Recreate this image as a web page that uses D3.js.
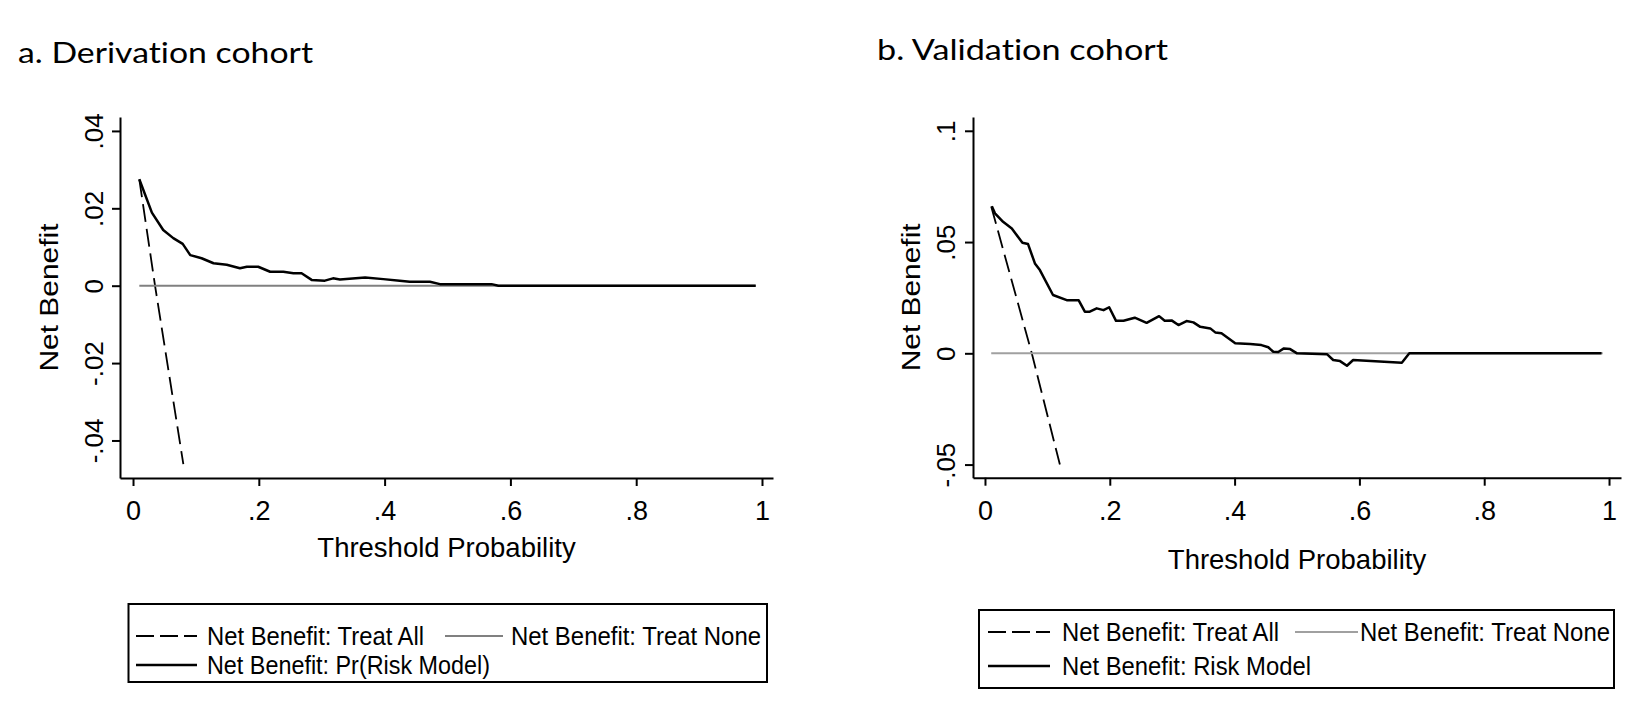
<!DOCTYPE html>
<html>
<head>
<meta charset="utf-8">
<script src="https://cdn.jsdelivr.net/npm/d3@7"></script>
<style>
  body { margin: 0; background: #fff; }
  text { font-variant-ligatures: none; }
</style>
</head>
<body>
<svg id="chart"></svg>
<script>
// values (threshold, net benefit)
const xTicks = [0, 0.2, 0.4, 0.6, 0.8, 1];
const derivYTicks = [-0.04, -0.02, 0, 0.02, 0.04];
const validYTicks = [-0.05, 0, 0.05, 0.1];

const derivTreatAll = [[0.01, 0.0275], [0.035, 0], [0.08, -0.0461]];
const derivTreatNone = [[0.01, 0], [0.99, 0]];
const derivModel = [
  [0.010, 0.0275], [0.030, 0.0189], [0.048, 0.0144], [0.064, 0.0123], [0.079, 0.0108],
  [0.091, 0.0079], [0.109, 0.0071], [0.128, 0.0058], [0.149, 0.0054], [0.170, 0.0045],
  [0.181, 0.0049], [0.199, 0.0049], [0.218, 0.0036], [0.239, 0.0036], [0.255, 0.0032],
  [0.268, 0.0032], [0.284, 0.0015], [0.305, 0.0013], [0.318, 0.0019], [0.329, 0.0016],
  [0.369, 0.0021], [0.398, 0.0017], [0.424, 0.0013], [0.440, 0.0010], [0.472, 0.0010],
  [0.488, 0.0004], [0.570, 0.0004], [0.581, 0], [0.990, 0]
];

const validTreatAll = [[0.01, 0.066], [0.075, 0], [0.12, -0.05]];
const validTreatNone = [[0.01, 0], [0.99, 0]];
const validModel = [
  [0.011, 0.0661], [0.016, 0.0629], [0.029, 0.0591], [0.043, 0.0561], [0.060, 0.0497],
  [0.069, 0.0491], [0.080, 0.0404], [0.088, 0.0374], [0.109, 0.0262], [0.131, 0.0239],
  [0.150, 0.0239], [0.160, 0.0187], [0.168, 0.0187], [0.179, 0.0202], [0.190, 0.0194],
  [0.199, 0.0207], [0.210, 0.0146], [0.222, 0.0146], [0.240, 0.0160], [0.259, 0.0137],
  [0.279, 0.0167], [0.288, 0.0146], [0.299, 0.0148], [0.310, 0.0127], [0.323, 0.0145],
  [0.334, 0.0139], [0.345, 0.0119], [0.361, 0.0112], [0.369, 0.0094], [0.379, 0.0090],
  [0.401, 0.0045], [0.425, 0.0042], [0.443, 0.0037], [0.454, 0.0027], [0.462, 0.0007],
  [0.470, 0.0006], [0.479, 0.0022], [0.489, 0.0019], [0.500, 0], [0.548, -0.0004],
  [0.558, -0.0030], [0.569, -0.0035], [0.580, -0.0056], [0.590, -0.0030], [0.668, -0.0042],
  [0.680, 0], [0.988, 0]
];

const derivLegend = ["Net Benefit: Treat All", "Net Benefit: Treat None", "Net Benefit: Pr(Risk Model)"];
const validLegend = ["Net Benefit: Treat All", "Net Benefit: Treat None", "Net Benefit: Risk Model"];

const width = 1650, height = 714;
const FONT = "'Liberation Sans', Arial, sans-serif";

const svg = d3.select("#chart")
  .attr("width", width)
  .attr("height", height)
  .attr("viewBox", [0, 0, width, height]);

svg.append("rect").attr("width", width).attr("height", height).attr("fill", "#fff");

// Stata style numbers: no leading zero
const fmt = v => v === 0 ? "0" : String(v).replace(/^(-?)0\./, "$1.");

function drawPanel(p) {
  const x = d3.scaleLinear().domain(p.xDomain).range([p.left, p.right]);
  const y = d3.scaleLinear().domain(p.yDomain).range([p.bottom, p.top]);

  // title
  svg.append("text")
    .attr("x", p.titleX).attr("y", p.titleY)
    .attr("font-family", "Lato, 'Open Sans', sans-serif")
    .attr("font-size", 28)
    .attr("textLength", p.titleLen)
    .attr("lengthAdjust", "spacingAndGlyphs")
    .text(p.title);

  // x axis
  const gx = svg.append("g")
    .attr("transform", `translate(0,${p.bottom})`)
    .call(d3.axisBottom(x).tickValues(xTicks).tickFormat(fmt).tickSize(8).tickSizeOuter(0));
  gx.selectAll("text")
    .attr("y", 42).attr("dy", 0)
    .attr("font-family", FONT).attr("font-size", 27).attr("fill", "#000");

  // y axis, labels turned vertical
  const gy = svg.append("g")
    .attr("transform", `translate(${p.left},0)`)
    .call(d3.axisLeft(y).tickValues(p.yTicks).tickFormat(fmt).tickSize(8).tickSizeOuter(0));
  gy.selectAll("text")
    .attr("x", 0).attr("dy", 0)
    .attr("y", -p.yLabelGap)
    .attr("transform", "rotate(-90)")
    .attr("text-anchor", "middle")
    .attr("font-family", FONT).attr("font-size", 26).attr("fill", "#000");

  svg.selectAll(".domain, .tick line").attr("stroke", "#000").attr("stroke-width", 2);

  // axis titles
  svg.append("text")
    .attr("x", (p.left + p.right) / 2).attr("y", p.xTitleY)
    .attr("text-anchor", "middle")
    .attr("font-family", FONT).attr("font-size", 27.5)
    .text("Threshold Probability");

  svg.append("text")
    .attr("transform", `translate(${p.yTitleX},${(p.top + p.bottom) / 2}) rotate(-90)`)
    .attr("text-anchor", "middle")
    .attr("font-family", FONT).attr("font-size", 26)
    .attr("textLength", 148)
    .attr("lengthAdjust", "spacingAndGlyphs")
    .text("Net Benefit");

  const line = d3.line().x(d => x(d[0])).y(d => y(d[1]));

  svg.append("path").datum(p.treatAll)
    .attr("d", line).attr("fill", "none")
    .attr("stroke", "#000").attr("stroke-width", 1.8)
    .attr("stroke-dasharray", "18,7");

  svg.append("path").datum(p.treatNone)
    .attr("d", line).attr("fill", "none")
    .attr("stroke", p.grey).attr("stroke-width", 2);

  svg.append("path").datum(p.model)
    .attr("d", line).attr("fill", "none")
    .attr("stroke", "#000").attr("stroke-width", 2.5)
    .attr("stroke-linejoin", "round");

  // legend
  const L = p.legend;
  svg.append("rect")
    .attr("x", L.x0).attr("y", L.y0)
    .attr("width", L.x1 - L.x0).attr("height", L.y1 - L.y0)
    .attr("fill", "none").attr("stroke", "#000").attr("stroke-width", 2);

  const items = [
    { key: p.legendText[0], sx: L.s1, sy: L.row1, tx: L.t1, ty: L.base1, len: 217, stroke: "#000", dash: "18,6", w: 2 },
    { key: p.legendText[1], sx: L.s2, sy: L.row1, tx: L.t2, ty: L.base1, len: 250, stroke: p.grey, dash: null, w: 2 },
    { key: p.legendText[2], sx: L.s1, sy: L.row2, tx: L.t1, ty: L.base2, len: L.len3, stroke: "#000", dash: null, w: 2.5 }
  ];

  items.forEach(it => {
    svg.append("line")
      .attr("x1", it.sx[0]).attr("x2", it.sx[1])
      .attr("y1", it.sy).attr("y2", it.sy)
      .attr("stroke", it.stroke).attr("stroke-width", it.w)
      .attr("stroke-dasharray", it.dash);
    svg.append("text")
      .attr("x", it.tx).attr("y", it.ty)
      .attr("font-family", FONT).attr("font-size", 25.5)
      .attr("textLength", it.len)
      .attr("lengthAdjust", "spacingAndGlyphs")
      .text(it.key);
  });
}

drawPanel({
  title: "a. Derivation cohort", titleX: 18, titleY: 62.5, titleLen: 295,
  left: 120, right: 773, top: 117, bottom: 478,
  xDomain: [-0.0207, 1.0175], yDomain: [-0.0497, 0.0436],
  yTicks: derivYTicks, yLabelGap: 17,
  xTitleY: 557, yTitleX: 58,
  grey: "#808080",
  treatAll: derivTreatAll, treatNone: derivTreatNone, model: derivModel,
  legendText: derivLegend,
  legend: {
    x0: 128.5, y0: 604, x1: 767, y1: 682,
    row1: 636, row2: 665, base1: 645, base2: 674,
    s1: [136, 197], t1: 207, s2: [445, 503], t2: 511, len3: 283
  }
});

drawPanel({
  title: "b. Validation cohort", titleX: 877, titleY: 59.5, titleLen: 291,
  left: 973, right: 1621, top: 117, bottom: 477.7,
  xDomain: [-0.0192, 1.0192], yDomain: [-0.0559, 0.1062],
  yTicks: validYTicks, yLabelGap: 18,
  xTitleY: 569, yTitleX: 920,
  grey: "#a0a0a0",
  treatAll: validTreatAll, treatNone: validTreatNone, model: validModel,
  legendText: validLegend,
  legend: {
    x0: 979, y0: 610, x1: 1614, y1: 688,
    row1: 632, row2: 666, base1: 641, base2: 675,
    s1: [988, 1050], t1: 1062, s2: [1295, 1358], t2: 1360, len3: 249
  }
});
</script>
</body>
</html>
